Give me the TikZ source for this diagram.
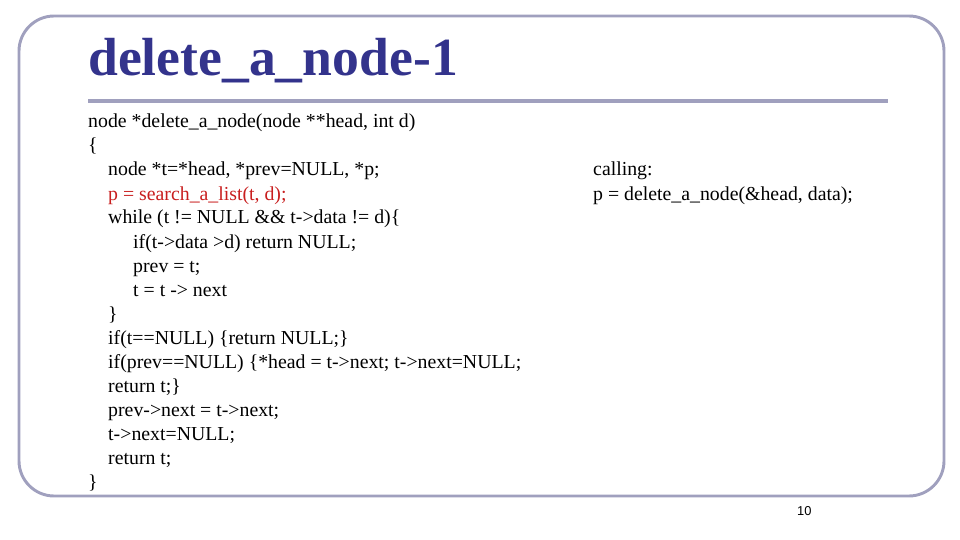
\documentclass[tikz,border=0pt]{standalone}
\usepackage{fontspec}
\setmainfont{Liberation Serif}
\setsansfont{Liberation Sans}
\usetikzlibrary{positioning}
\definecolor{titleblue}{RGB}{51,51,140}
\definecolor{framegray}{RGB}{160,160,190}
\definecolor{codered}{RGB}{200,30,30}
\begin{document}
\begin{tikzpicture}[%
    x=0.03cm, y=-0.03cm,
    code/.style={anchor=base west, inner sep=0pt, font=\fontsize{16.9}{18}\selectfont},
    hot/.style={code, text=codered}
    ]
    \useasboundingbox (0,0) rectangle (960,540);
    \draw[framegray, line width=2.5pt, rounded corners=30] (19,16) rectangle (944,496);
    \node[anchor=base west, inner sep=0pt, text=titleblue,
      font=\fontsize{45.8}{50}\bfseries] (title) at (88,76) {delete\_a\_node-1};
    \draw[framegray, line width=3pt] (88,101) -- (888,101);

    \node[code] (l1) at (88,128) {node *delete\_a\_node(node **head, int d)};
    \node[code] (l2) at (88,152) {\{};
    \node[code] (l3) at (108,176) {node *t=*head, *prev=NULL, *p;};
    \node[hot] (l4) at (108,200) {p = search\_a\_list(t, d);};
    \node[code] (l5) at (108,224) {while (t != NULL \&\& t->data != d)\{};
    \node[code] (l6) at (133,248) {if(t->data >d) return NULL;};
    \node[code] (l7) at (133,272) {prev = t;};
    \node[code] (l8) at (133,296) {t = t -> next};
    \node[code] (l9) at (108,320) {\}};
    \node[code] (l10) at (108,344) {if(t==NULL) \{return NULL;\}};
    \node[code] (l11) at (108,368) {if(prev==NULL) \{*head = t->next; t->next=NULL;};
    \node[code] (l12) at (108,392) {return t;\}};
    \node[code] (l13) at (108,416) {prev->next = t->next;};
    \node[code] (l14) at (108,440) {t->next=NULL;};
    \node[code] (l15) at (108,464) {return t;};
    \node[code] (l16) at (88,488) {\}};

    \node[code] (call1) at (593,176) {calling:};
    \node[code] (call2) at (593,200) {p = delete\_a\_node(\&head, data);};

    \node[anchor=base west, inner sep=0pt, font=\sffamily\fontsize{11}{13}\selectfont] (page) at (797,515) {10};
\end{tikzpicture}
\end{document}
